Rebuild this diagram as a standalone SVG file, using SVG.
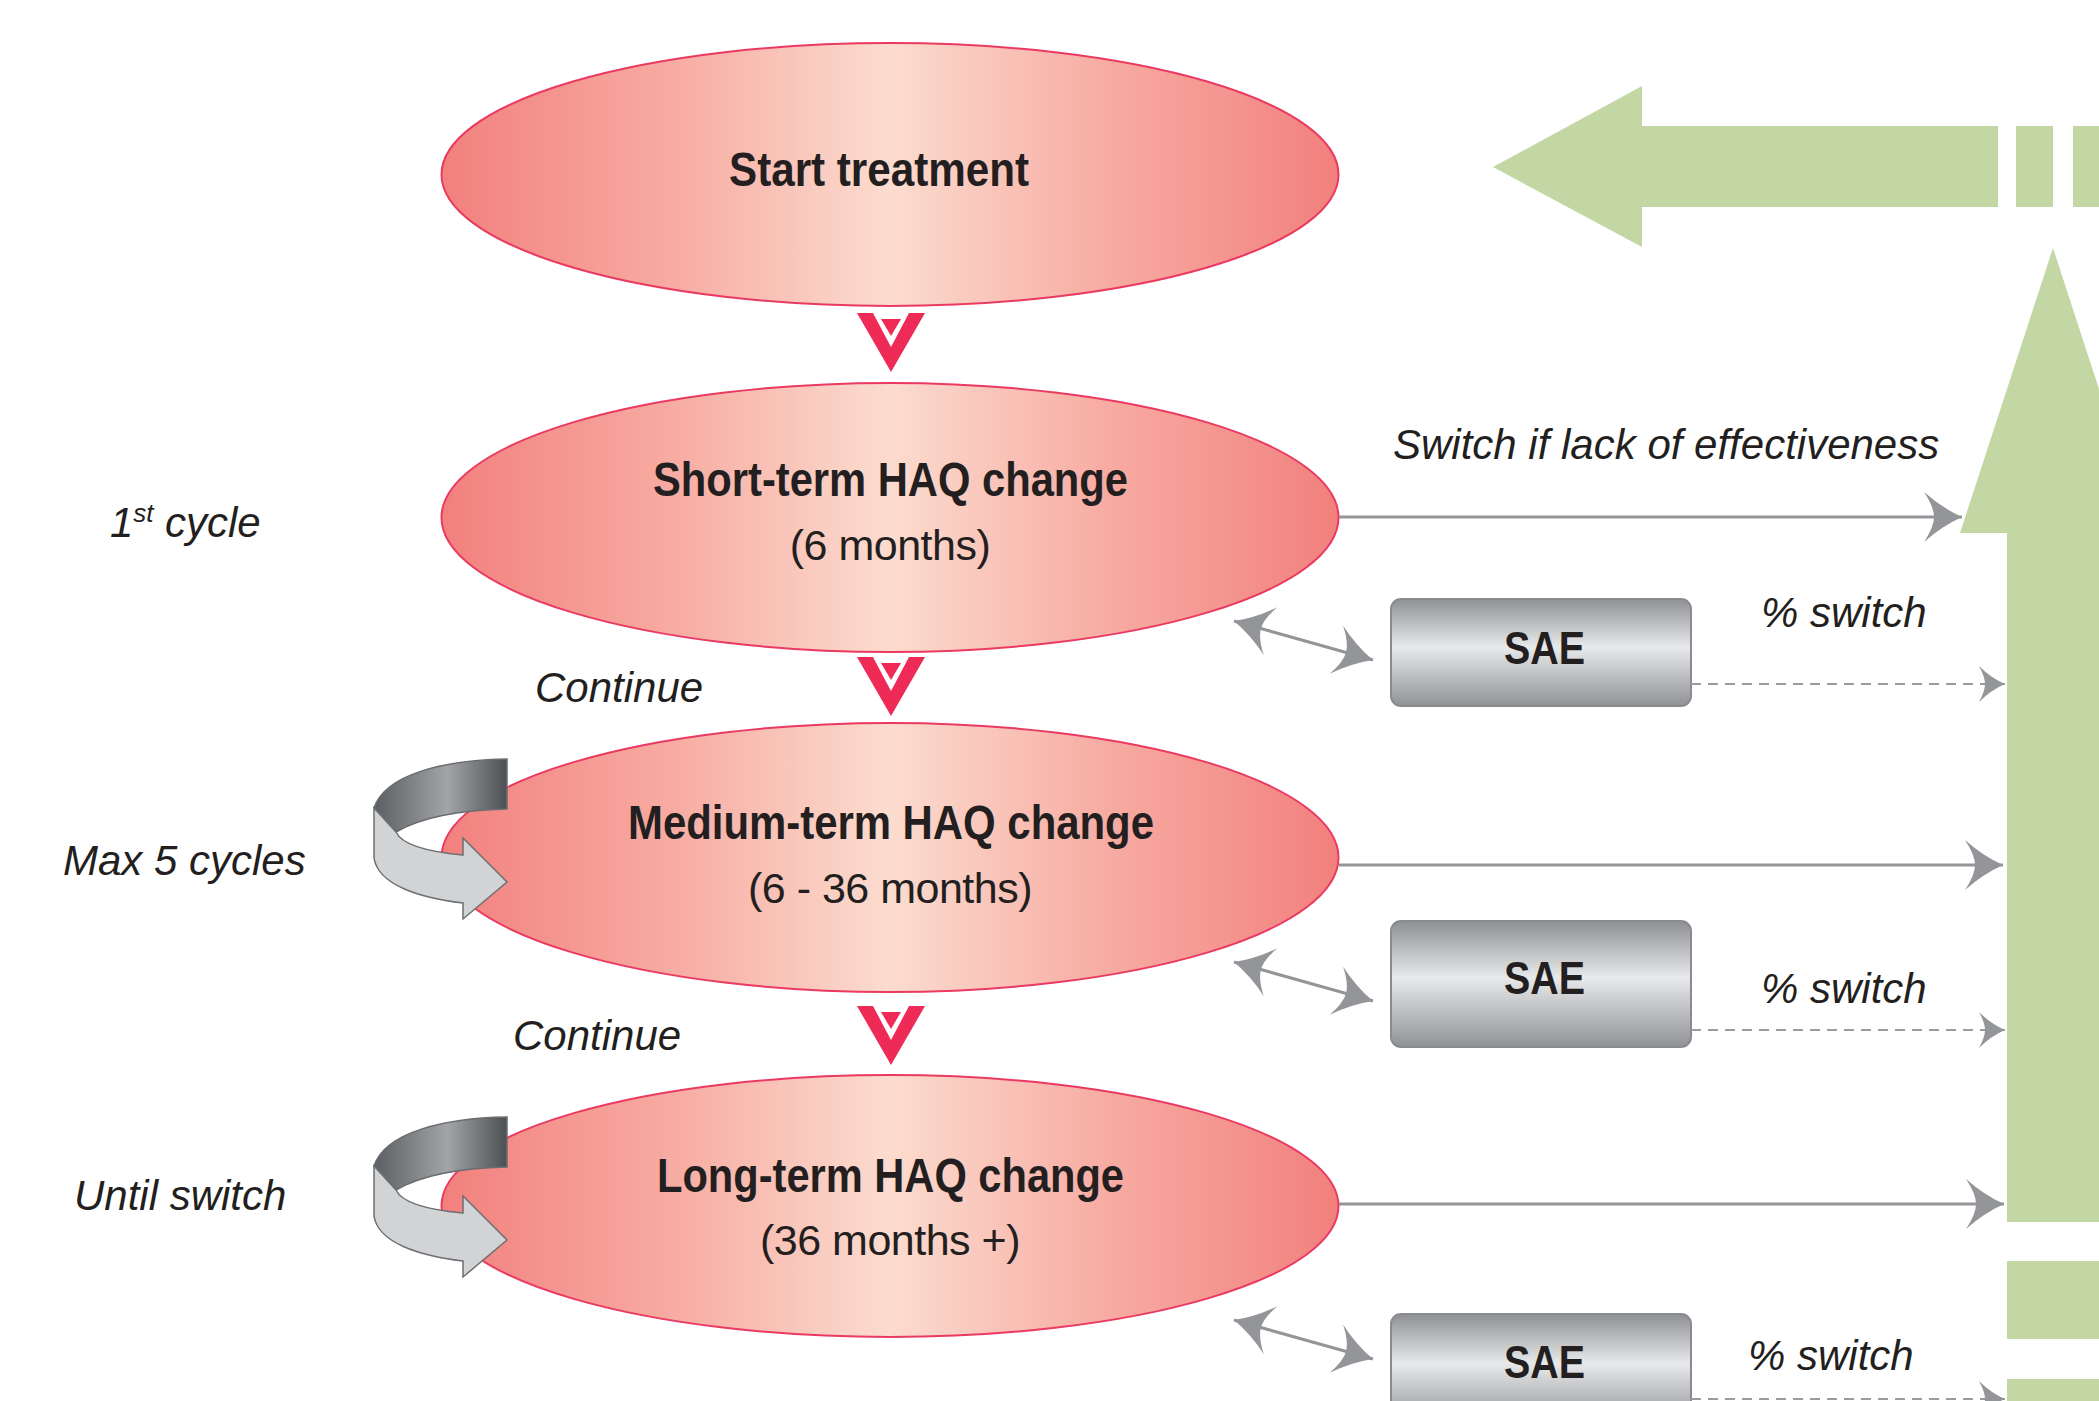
<svg xmlns="http://www.w3.org/2000/svg" width="2099" height="1401" viewBox="0 0 2099 1401">
<defs>
<style>
.ell{stroke:#ea3a62;stroke-width:2;fill:url(#gEll)}
.b{font-family:"Liberation Sans",Arial,sans-serif;font-weight:bold;fill:#231f20}
.r{font-family:"Liberation Sans",Arial,sans-serif;fill:#231f20;font-size:43px;letter-spacing:-0.5px}
.i{font-family:"Liberation Sans",Arial,sans-serif;font-style:italic;fill:#231f20;font-size:42px}
.gl{fill:#c3d7a4}
.ln{stroke:#939598;stroke-width:3;fill:none}
.dl{stroke:#9a9b9e;stroke-width:2;fill:none;stroke-dasharray:10 7}
.box{fill:url(#gBox);stroke:#898b8e;stroke-width:2}
.ah{fill:#939598}
</style>
<linearGradient id="gEll" x1="0" y1="0" x2="1" y2="0">
<stop offset="0" stop-color="#f2807d"/>
<stop offset="0.25" stop-color="#f7aaa1"/>
<stop offset="0.5" stop-color="#fcdccf"/>
<stop offset="0.75" stop-color="#f7aaa1"/>
<stop offset="1" stop-color="#f2807d"/>
</linearGradient>
<linearGradient id="gBox" x1="0" y1="0" x2="0" y2="1">
<stop offset="0" stop-color="#8e9094"/>
<stop offset="0.45" stop-color="#e8e9ea"/>
<stop offset="1" stop-color="#909296"/>
</linearGradient>
<linearGradient id="gDark" x1="374" y1="0" x2="507" y2="0" gradientUnits="userSpaceOnUse">
<stop offset="0" stop-color="#5b5e62"/>
<stop offset="0.55" stop-color="#a2a4a7"/>
<stop offset="1" stop-color="#4d5053"/>
</linearGradient>
<marker id="mBig" markerUnits="userSpaceOnUse" viewBox="-40 -27 42 54" refX="0" refY="0" markerWidth="42" markerHeight="54" orient="auto-start-reverse">
<path class="ah" d="M0,0 Q-20,-9 -38,-25 Q-28,-10 -28,0 Q-28,10 -38,25 Q-20,9 0,0 Z"/>
</marker>
<marker id="mSm" markerUnits="userSpaceOnUse" viewBox="-30 -20 32 40" refX="0" refY="0" markerWidth="32" markerHeight="40" orient="auto">
<path class="ah" d="M0,0 Q-14,-6 -26,-18 Q-20,-7 -20,0 Q-20,7 -26,18 Q-14,6 0,0 Z"/>
</marker>
<g id="chev">
<polygon points="857,313 925,313 891,372" fill="#ee2a56"/>
<polygon points="873,313 909,313 891,347" fill="#ffffff"/>
<polygon points="881,319 901,319 891,336" fill="#ee2a56"/>
</g>
<g id="curl">
<path d="M507,759 C445,760 385,774 374,808 L396,832 C420,818 460,810 507,809 Z" fill="url(#gDark)" stroke="#6a6c70" stroke-width="1.5"/>
<path d="M374,808 L374,858 C378,885 420,898 463,903 L463,919 L507,882 L463,838 L463,855 C430,852 402,845 396,832 Z" fill="#d1d3d5" stroke="#6d6f72" stroke-width="1.5"/>
</g>
</defs>
<rect width="2099" height="1401" fill="#ffffff"/>

<g id="green-arrows">
<polygon class="gl" points="1493,167 1642,86 1642,126 1998,126 1998,207 1642,207 1642,247"/>
<rect class="gl" x="2016" y="126" width="37" height="81"/>
<rect class="gl" x="2073" y="126" width="30" height="81"/>
<polygon class="gl" points="2053,248 2146,533 2099,533 2099,1222 2007,1222 2007,533 1960,533"/>
<rect class="gl" x="2007" y="1261" width="92" height="78"/>
<rect class="gl" x="2007" y="1379" width="92" height="30"/>
</g>

<g id="node-start">
<ellipse class="ell" cx="890" cy="174.5" rx="448.5" ry="131.5"/>
<text class="b" x="729" y="186" font-size="48" textLength="300" lengthAdjust="spacingAndGlyphs">Start treatment</text>
</g>
<g id="node-short">
<ellipse class="ell" cx="890" cy="517.5" rx="448.5" ry="134.5"/>
<text class="b" x="653" y="496" font-size="48" textLength="475" lengthAdjust="spacingAndGlyphs">Short-term HAQ change</text>
<text class="r" x="890" y="560" text-anchor="middle">(6 months)</text>
</g>
<g id="node-medium">
<ellipse class="ell" cx="890" cy="857.5" rx="448.5" ry="134.5"/>
<text class="b" x="628" y="839" font-size="48" textLength="526" lengthAdjust="spacingAndGlyphs">Medium-term HAQ change</text>
<text class="r" x="890" y="903" text-anchor="middle">(6 - 36 months)</text>
</g>
<g id="node-long">
<ellipse class="ell" cx="890" cy="1206" rx="448.5" ry="131"/>
<text class="b" x="657" y="1192" font-size="48" textLength="467" lengthAdjust="spacingAndGlyphs">Long-term HAQ change</text>
<text class="r" x="890" y="1255" text-anchor="middle">(36 months +)</text>
</g>

<g id="loop-arrows">
<use href="#curl"/>
<use href="#curl" transform="translate(0,358)"/>
</g>

<g id="node-sae1">
<rect class="box" x="1391" y="599" width="300" height="107" rx="10"/>
<text class="b" x="1504" y="664" font-size="46" textLength="81" lengthAdjust="spacingAndGlyphs">SAE</text>
</g>
<g id="node-sae2">
<rect class="box" x="1391" y="921" width="300" height="126" rx="10"/>
<text class="b" x="1504" y="994" font-size="46" textLength="81" lengthAdjust="spacingAndGlyphs">SAE</text>
</g>
<g id="node-sae3">
<rect class="box" x="1391" y="1314" width="300" height="110" rx="10"/>
<text class="b" x="1504" y="1378" font-size="46" textLength="81" lengthAdjust="spacingAndGlyphs">SAE</text>
</g>

<g id="connectors">
<use href="#chev"/>
<use href="#chev" transform="translate(0,344)"/>
<use href="#chev" transform="translate(0,693)"/>
<path class="ln" d="M1339,517 L1962,517" marker-end="url(#mBig)"/>
<path class="ln" d="M1339,865 L2003,865" marker-end="url(#mBig)"/>
<path class="ln" d="M1339,1204 L2004,1204" marker-end="url(#mBig)"/>
<path class="ln" d="M1234,621 L1373,660" marker-start="url(#mBig)" marker-end="url(#mBig)"/>
<path class="ln" d="M1234,962 L1373,1001" marker-start="url(#mBig)" marker-end="url(#mBig)"/>
<path class="ln" d="M1234,1320 L1373,1359" marker-start="url(#mBig)" marker-end="url(#mBig)"/>
<path class="dl" d="M1691,684 L2005,684" marker-end="url(#mSm)"/>
<path class="dl" d="M1691,1030 L2005,1030" marker-end="url(#mSm)"/>
<path class="dl" d="M1691,1399 L2005,1399" marker-end="url(#mSm)"/>
</g>

<g id="labels">
<text class="i" x="110" y="537">1<tspan font-size="26" dy="-15">st</tspan><tspan dy="15" x="165">cycle</tspan></text>
<text class="i" x="63" y="875">Max 5 cycles</text>
<text class="i" x="74" y="1210">Until switch</text>
<text class="i" x="535" y="702">Continue</text>
<text class="i" x="513" y="1050">Continue</text>
<text class="i" x="1393" y="459">Switch if lack of effectiveness</text>
<text class="i" x="1761" y="627">% switch</text>
<text class="i" x="1761" y="1003">% switch</text>
<text class="i" x="1748" y="1370">% switch</text>
</g>
</svg>
